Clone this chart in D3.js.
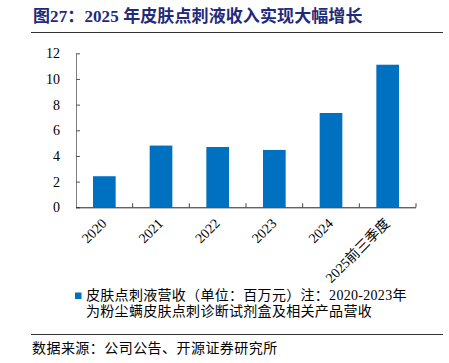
<!DOCTYPE html>
<html>
<head>
<meta charset="utf-8">
<script src="https://cdn.jsdelivr.net/npm/d3@7/dist/d3.min.js"></script>
<style>
  body { margin: 0; background: #fff; }
  svg { display: block; }
  text { font-family: "Liberation Serif", "Noto Sans CJK SC", serif; }
</style>
</head>
<body>
<div id="chart"></div>
<script>
const categories = ["2020", "2021", "2022", "2023", "2024", "2025前三季度"];
const revenue = [2.42, 4.81, 4.70, 4.47, 7.35, 11.11];
const yTicks = [0, 2, 4, 6, 8, 10, 12];

const titleText = "图27：2025 年皮肤点刺液收入实现大幅增长";
const legendLines = ["皮肤点刺液营收（单位：百万元）注：2020-2023年", "为粉尘螨皮肤点刺诊断试剂盒及相关产品营收"];
const sourceText = "数据来源：公司公告、开源证券研究所";

const width = 449, height = 363;
const margins = { top: 53.3, left: 76, right: 33, bottom: 155.7 };
const plotW = width - margins.left - margins.right;
const plotH = height - margins.top - margins.bottom;

const svg = d3.select("#chart").append("svg")
  .attr("width", width)
  .attr("height", height);

// title + rules
svg.append("text")
  .attr("x", 33)
  .attr("y", 22)
  .style("font-size", "17px")
  .style("font-weight", "bold")
  .style("letter-spacing", "0.1px")
  .attr("fill", "#1f2a7a")
  .text(titleText);

svg.append("line")
  .attr("x1", 31).attr("x2", 443)
  .attr("y1", 32.5).attr("y2", 32.5)
  .attr("stroke", "#333").attr("stroke-width", 1);

svg.append("line")
  .attr("x1", 31).attr("x2", 443)
  .attr("y1", 334.5).attr("y2", 334.5)
  .attr("stroke", "#333").attr("stroke-width", 1);

const g = svg.append("g")
  .attr("transform", `translate(${margins.left}, ${margins.top})`);

const x = d3.scaleBand().domain(categories).range([0, plotW]).paddingInner(0.6).paddingOuter(0.3);
const xEdge = d3.scaleLinear().domain([0, categories.length]).range([0, plotW]);
const y = d3.scaleLinear().domain([0, 12]).range([plotH, 0]);

// bars
g.selectAll(".bar")
  .data(revenue)
  .enter()
  .append("rect")
  .attr("class", "bar")
  .attr("x", (d, i) => x(categories[i]))
  .attr("y", d => y(d))
  .attr("width", x.bandwidth())
  .attr("height", d => plotH - y(d))
  .attr("fill", "#0070c0");

// y axis
g.append("g")
  .attr("class", "y axis")
  .call(d3.axisLeft(y).tickValues(yTicks).tickSize(-4).tickSizeOuter(0).tickPadding(16))
  .call(a => a.select(".domain").attr("stroke", "#7f7f7f"))
  .call(a => a.selectAll(".tick line").attr("stroke", "#555"))
  .call(a => a.selectAll("text")
    .style("font-size", "14px")
    .attr("fill", "#000")
    .style("font-family", "'Liberation Serif', serif"));

// x axis (ticks on category boundaries, pointing up)
const xAxis = g.append("g").attr("class", "x axis")
  .attr("transform", `translate(0, ${plotH})`);

xAxis.append("line")
  .attr("x1", 0).attr("x2", plotW)
  .attr("y1", 0.5).attr("y2", 0.5)
  .attr("stroke", "#222");

xAxis.selectAll(".xtick")
  .data(d3.range(1, categories.length + 1))
  .enter()
  .append("line")
  .attr("x1", d => xEdge(d)).attr("x2", d => xEdge(d))
  .attr("y1", 0).attr("y2", -4)
  .attr("stroke", "#444");

xAxis.selectAll(".xlabel")
  .data(categories)
  .enter()
  .append("text")
  .attr("class", "xlabel")
  .attr("text-anchor", "end")
  .attr("transform", d => `translate(${x(d) + x.bandwidth() / 2 + 3}, 17) rotate(-45)`)
  .style("font-size", "14px")
  .attr("fill", "#000")
  .text(d => d);

// legend
svg.append("rect")
  .attr("x", 75).attr("y", 292.5)
  .attr("width", 6.5).attr("height", 6.5)
  .attr("fill", "#0070c0");

svg.selectAll(".legend-line")
  .data(legendLines)
  .enter()
  .append("text")
  .attr("class", "legend-line")
  .attr("x", 86)
  .attr("y", (d, i) => 300 + i * 16)
  .style("font-size", "14px")
  .style("letter-spacing", "0.3px")
  .attr("fill", "#000")
  .text(d => d);

svg.append("text")
  .attr("x", 32)
  .attr("y", 353)
  .style("font-size", "14px")
  .style("letter-spacing", "0.45px")
  .attr("fill", "#000")
  .text(sourceText);
</script>
</body>
</html>
